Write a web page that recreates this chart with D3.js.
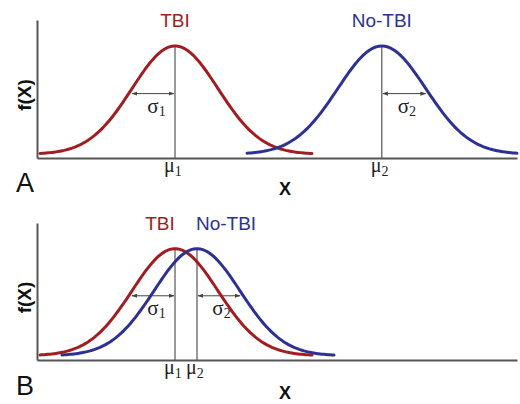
<!DOCTYPE html>
<html lang="en">
<head>
<meta charset="UTF-8">
<title>TBI vs No-TBI distributions</title>
<script src="https://d3js.org/d3.v7.min.js"></script>
<style>
  body { margin: 0; background: #fff; }
  svg { display: block; }
  .axis path { stroke: #555; stroke-width: 2; }
  .lbl { font-family: "Liberation Sans", Arial, sans-serif; }
  .greek { font-family: "Liberation Serif", "Times New Roman", serif; fill: #222; }
</style>
</head>
<body>
<div id="chart"></div>
<script>
// chart data (arbitrary x units)
const panels = ["A", "B"];
const groups = ["TBI", "No-TBI"];
const colors = ["#a11d21", "#2e3192"];
const muA = [3.45, 8.62];
const sigmaA = [1.075, 1.1];
const startA = [0.075, 5.25];
const endA = [6.9, 12.0];
const muB = [3.45, 4.0];
const sigmaB = [1.075, 1.075];
const startB = [0.075, 0.625];
const endB = [6.9, 7.45];
const arrowLevel = 0.56;

const width = 520, height = 404;
const svg = d3.select("#chart").append("svg")
    .attr("width", width)
    .attr("height", height);

const defs = svg.append("defs");
defs.append("marker")
    .attr("id", "head")
    .attr("viewBox", "0 0 10 10")
    .attr("refX", 9).attr("refY", 5)
    .attr("markerWidth", 6).attr("markerHeight", 6)
    .attr("orient", "auto-start-reverse")
    .append("path")
    .attr("d", "M0,1.5 L10,5 L0,8.5 Z")
    .attr("fill", "#444");

const x = d3.scaleLinear().domain([0, 12]).range([37, 517]);

const layout = [
    { top: 20, bottom: 158, yMin: -0.035, mu: muA, sigma: sigmaA, start: startA, end: endA,
      labelDx: [0, 0], letterY: 192, xLabelY: 195 },
    { top: 223, bottom: 360, yMin: -0.04, mu: muB, sigma: sigmaB, start: startB, end: endB,
      labelDx: [-15, 29], letterY: 395, xLabelY: 399 }
];

// unscaled normal shape so both peaks reach 1
const shape = (v, m, s) => Math.exp(-0.5 * ((v - m) / s) ** 2);

layout.forEach((p, pi) => {
    const y = d3.scaleLinear().domain([p.yMin, 1.24]).range([p.bottom, p.top]);
    const g = svg.append("g");

    // vertical mean lines
    p.mu.forEach(m => {
        g.append("line")
            .attr("x1", x(m)).attr("x2", x(m))
            .attr("y1", y(1)).attr("y2", y(p.yMin))
            .attr("stroke", "#555").attr("stroke-width", 1.2);
    });

    // sigma arrows
    p.mu.forEach((m, i) => {
        const dir = i === 0 ? -1 : 1;
        const x0 = x(m), x1 = x(m + dir * p.sigma[i]);
        g.append("line")
            .attr("x1", x0 + dir * 1).attr("x2", x1)
            .attr("y1", y(arrowLevel)).attr("y2", y(arrowLevel))
            .attr("stroke", "#444").attr("stroke-width", 1)
            .attr("marker-start", "url(#head)")
            .attr("marker-end", "url(#head)");
        const t = g.append("text")
            .attr("class", "greek")
            .attr("x", (x0 + x1) / 2 + 3)
            .attr("y", y(arrowLevel) + 19)
            .attr("text-anchor", "middle")
            .attr("font-size", 21);
        t.append("tspan").text("σ");
        t.append("tspan").attr("font-size", 14).attr("dy", 3).text(i + 1);
    });

    // curves
    p.mu.forEach((m, i) => {
        const xs = d3.range(p.start[i], p.end[i] + 0.001, 0.05);
        g.append("path")
            .datum(xs)
            .attr("fill", "none")
            .attr("stroke", colors[i])
            .attr("stroke-width", 3)
            .attr("stroke-linecap", "round")
            .attr("d", d3.line().x(d => x(d)).y(d => y(shape(d, m, p.sigma[i]))));
    });

    // axes without ticks
    g.append("g")
        .attr("class", "axis")
        .attr("transform", `translate(0,${p.bottom})`)
        .call(d3.axisBottom(x).tickValues([]).tickSizeOuter(0));
    g.append("g")
        .attr("class", "axis")
        .attr("transform", `translate(${x(0)},0)`)
        .call(d3.axisLeft(y).tickValues([]).tickSizeOuter(0));

    // mu labels: glyph sits left of the mean line, subscript to its right
    p.mu.forEach((m, i) => {
        const t = g.append("text")
            .attr("class", "greek")
            .attr("x", x(m) - 11)
            .attr("y", p.bottom + 14)
            .attr("font-size", 20);
        t.append("tspan").text("μ");
        t.append("tspan").attr("font-size", 14).attr("dy", 4).text(i + 1);
    });

    // group labels
    groups.forEach((name, i) => {
        g.append("text")
            .attr("class", "lbl")
            .attr("x", x(p.mu[i]) + p.labelDx[i])
            .attr("y", p.top + 7)
            .attr("text-anchor", "middle")
            .attr("font-size", 19)
            .attr("fill", colors[i])
            .text(name);
    });

    // axis titles
    g.append("text")
        .attr("class", "lbl")
        .attr("transform", `translate(31,${(p.top + p.bottom) / 2 + 6}) rotate(-90)`)
        .attr("text-anchor", "middle")
        .attr("font-size", 19)
        .attr("font-weight", "bold")
        .attr("fill", "#111")
        .text("f(X)");
    g.append("text")
        .attr("class", "lbl")
        .attr("x", 285)
        .attr("y", p.xLabelY)
        .attr("text-anchor", "middle")
        .attr("font-size", 18)
        .attr("font-weight", "bold")
        .attr("fill", "#111")
        .text("X");
    g.append("text")
        .attr("class", "lbl")
        .attr("x", 16)
        .attr("y", p.letterY)
        .attr("font-size", 27)
        .attr("fill", "#111")
        .text(panels[pi]);
});
</script>
</body>
</html>
